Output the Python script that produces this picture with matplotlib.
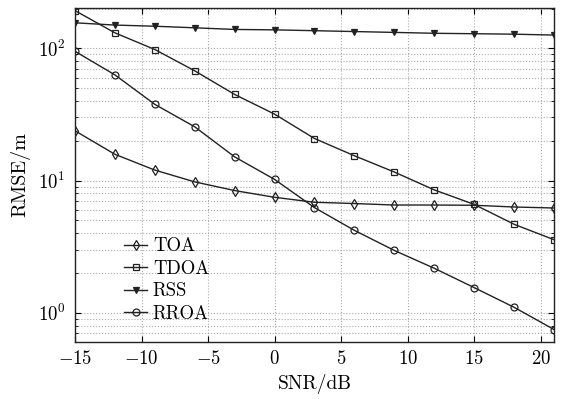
import matplotlib
matplotlib.use('Agg')
import matplotlib.pyplot as plt
from matplotlib.ticker import LogLocator, NullFormatter

plt.rcParams['font.family'] = 'serif'
plt.rcParams['font.serif'] = ['cmr10', 'DejaVu Serif']
plt.rcParams['mathtext.fontset'] = 'cm'
plt.rcParams['axes.formatter.use_mathtext'] = True

# данні з рисунку
snr = [-15, -12, -9, -6, -3, 0, 3, 6, 9, 12, 15, 18, 21]
toa = [23.8, 15.8, 12.0, 9.77, 8.4, 7.47, 6.85, 6.7, 6.53, 6.53, 6.5, 6.31, 6.2]
tdoa = [193, 131, 98, 67.6, 44.8, 31.8, 20.8, 15.4, 11.6, 8.5, 6.6, 4.67, 3.57]
rss = [156, 150, 147, 143, 139, 138, 136, 134, 132, 130, 129, 128, 126]
rroa = [95, 63, 37.7, 25.5, 15.1, 10.2, 6.24, 4.2, 2.96, 2.17, 1.55, 1.10, 0.747]

fig = plt.figure(figsize=(5.63, 3.99), dpi=100)
ax = fig.add_axes([0.1332, 0.1436, 0.8508, 0.8364])

lc = '#222222'
kw = dict(color=lc, linewidth=1.0, markerfacecolor='none', markeredgecolor=lc,
          markersize=5, markeredgewidth=0.9)
ax.plot(snr, toa, marker='d', label='TOA', **kw)
ax.plot(snr, tdoa, marker='s', label='TDOA', **kw)
ax.plot(snr, rss, marker='v', label='RSS', **dict(kw, markerfacecolor=lc))
ax.plot(snr, rroa, marker='o', label='RROA', **kw)

ax.set_yscale('log')
ax.set_xlim(-15, 21)
ax.set_ylim(0.604, 202)
ax.set_xticks([-15, -10, -5, 0, 5, 10, 15, 20])
ax.yaxis.set_minor_locator(LogLocator(base=10, subs=range(2, 10)))
ax.yaxis.set_minor_formatter(NullFormatter())

ax.grid(True, which='major', linestyle=':', color='#aaaaaa', linewidth=0.8)
ax.grid(True, which='minor', axis='y', linestyle=':', color='#aaaaaa', linewidth=0.8)
ax.tick_params(which='both', direction='in', top=True, right=True, labelsize=13.5)
ax.tick_params(which='major', length=4)
ax.tick_params(which='minor', length=2)
ax.tick_params(axis='x', which='major', pad=6)
ax.tick_params(axis='y', which='major', pad=7)
for s in ax.spines.values():
    s.set_linewidth(1.0)
    s.set_color(lc)

ax.set_xlabel('SNR/dB', fontsize=14)
ax.set_ylabel('RMSE/m', fontsize=14.5, labelpad=5)

ax.legend(loc='lower left', bbox_to_anchor=(0.102, 0.056), frameon=False, fontsize=13.5,
          handlelength=1.25, handletextpad=0.3, labelspacing=0.25, borderpad=0,
          borderaxespad=0)

fig.savefig('out.png', dpi=100)
